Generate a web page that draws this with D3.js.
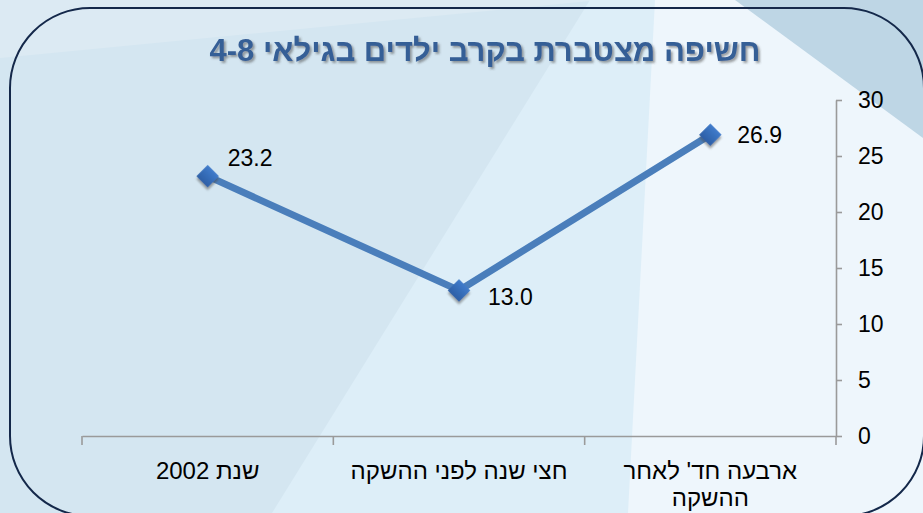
<!DOCTYPE html>
<html>
<head>
<meta charset="utf-8">
<script src="https://d3js.org/d3.v7.min.js"></script>
<style>
    body {
        margin: 0;
        padding: 0;
        overflow: hidden;
    }
    text {
        font-family: "Liberation Sans", Arial, sans-serif;
    }
    .axis path, .axis line {
        fill: none;
        stroke: #9a9a9a;
        stroke-width: 1.6;
    }
    .axis text {
        fill: #000;
        font-size: 23px;
    }
    .rtl {
        direction: rtl;
        unicode-bidi: embed;
    }
</style>
</head>
<body>
<script>

// data, left to right
var categories = ["שנת 2002", "חצי שנה לפני ההשקה", "ארבעה חד' לאחר\nההשקה"];
var values = [23.2, 13.0, 26.9];
var yTicks = [0, 5, 10, 15, 20, 25, 30];
var title = "חשיפה מצטברת בקרב ילדים בגילאי 4-8";

// label nudges (dx, dy) relative to each point
var labelNudge = [[20, -18], [29, 7], [27, 0]];

var width = 923,
    height = 513;

var svg = d3.select("body")
    .append("svg")
    .attr("width", width)
    .attr("height", height);

var defs = svg.append("defs");

var shadow = defs.append("filter")
    .attr("id", "shadow")
    .attr("x", "-30%").attr("y", "-30%")
    .attr("width", "160%").attr("height", "160%");
shadow.append("feDropShadow")
    .attr("dx", 2).attr("dy", 2)
    .attr("stdDeviation", 1.3)
    .attr("flood-color", "#444")
    .attr("flood-opacity", 0.5);

var grad = defs.append("linearGradient")
    .attr("id", "markerGrad")
    .attr("x1", 0).attr("y1", 0).attr("x2", 0).attr("y2", 1);
grad.append("stop").attr("offset", "0%").attr("stop-color", "#3f7bcb");
grad.append("stop").attr("offset", "100%").attr("stop-color", "#2d5fa6");

// slide background
var bg = svg.append("g");
bg.append("rect")
    .attr("width", width)
    .attr("height", height)
    .attr("fill", "#d4e6f1");
bg.append("polygon")
    .attr("points", "0,0 600,0 0,58")
    .attr("fill", "#dceaf3");
bg.append("polygon")
    .attr("points", "590,0 923,0 923,513 272,513")
    .attr("fill", "#ddeef8");
bg.append("polygon")
    .attr("points", "655,0 923,0 923,513 628,513")
    .attr("fill", "#eef6fc");
bg.append("polygon")
    .attr("points", "735,0 923,0 923,138")
    .attr("fill", "#bed6e5");

// rounded frame
svg.append("rect")
    .attr("x", 10)
    .attr("y", 8)
    .attr("width", 914)
    .attr("height", 508)
    .attr("rx", 80)
    .attr("ry", 80)
    .attr("fill", "none")
    .attr("stroke", "#14284a")
    .attr("stroke-width", 2);

// title
svg.append("text")
    .attr("class", "rtl")
    .attr("x", 485)
    .attr("y", 61)
    .attr("text-anchor", "middle")
    .attr("font-size", "31px")
    .attr("font-weight", "bold")
    .attr("fill", "#365e96")
    .attr("filter", "url(#shadow)")
    .text(title);

var x = d3.scaleBand()
    .domain(categories)
    .range([82, 836]);

var y = d3.scaleLinear()
    .domain([0, 30])
    .range([436, 100]);

// y axis on the right
var yAxis = d3.axisRight(y)
    .tickValues(yTicks)
    .tickSize(6)
    .tickSizeOuter(0)
    .tickPadding(16);

svg.append("g")
    .attr("class", "y axis")
    .attr("transform", "translate(836,0)")
    .call(yAxis);

// x axis with boundary ticks
var xAxis = d3.axisBottom(x)
    .tickSize(0)
    .tickSizeOuter(0)
    .tickFormat("");

var gx = svg.append("g")
    .attr("class", "x axis")
    .attr("transform", "translate(0,436)")
    .call(xAxis);

var bounds = categories.map(function (d) { return x(d); });
bounds.push(x(categories[categories.length - 1]) + x.bandwidth());

gx.selectAll(".bound")
    .data(bounds)
    .enter().append("line")
    .attr("class", "bound")
    .attr("x1", function (d) { return d; })
    .attr("x2", function (d) { return d; })
    .attr("y1", 0)
    .attr("y2", 9);

var catLabels = svg.append("g")
    .selectAll("text")
    .data(categories)
    .enter().append("text")
    .attr("class", "rtl")
    .attr("text-anchor", "middle")
    .attr("font-size", "24px")
    .attr("fill", "#000")
    .attr("transform", function (d) {
        return "translate(" + (x(d) + x.bandwidth() / 2) + ",479)";
    });

catLabels.selectAll("tspan")
    .data(function (d) { return d.split("\n"); })
    .enter().append("tspan")
    .attr("x", 0)
    .attr("dy", function (d, i) { return i === 0 ? 0 : 27; })
    .text(function (d) { return d; });

// series
var points = categories.map(function (c, i) {
    return { c: c, v: values[i], i: i };
});

var valueline = d3.line()
    .x(function (d) { return x(d.c) + x.bandwidth() / 2; })
    .y(function (d) { return y(d.v); });

svg.append("path")
    .attr("d", valueline(points))
    .attr("fill", "none")
    .attr("stroke", "#4a7ebb")
    .attr("stroke-width", 7)
    .attr("stroke-linejoin", "round");

var diamond = d3.symbol().type(d3.symbolSquare).size(250);

svg.append("g")
    .selectAll("path")
    .data(points)
    .enter().append("path")
    .attr("d", diamond)
    .attr("fill", "url(#markerGrad)")
    .attr("filter", "url(#shadow)")
    .attr("transform", function (d) {
        return "translate(" + (x(d.c) + x.bandwidth() / 2) + "," + y(d.v) + ") rotate(45)";
    });

svg.append("g")
    .selectAll("text")
    .data(points)
    .enter().append("text")
    .attr("x", function (d) { return x(d.c) + x.bandwidth() / 2 + labelNudge[d.i][0]; })
    .attr("y", function (d) { return y(d.v) + labelNudge[d.i][1]; })
    .attr("dy", "0.35em")
    .attr("font-size", "23px")
    .attr("fill", "#000")
    .text(function (d) { return d.v.toFixed(1); });

</script>
</body>
</html>
